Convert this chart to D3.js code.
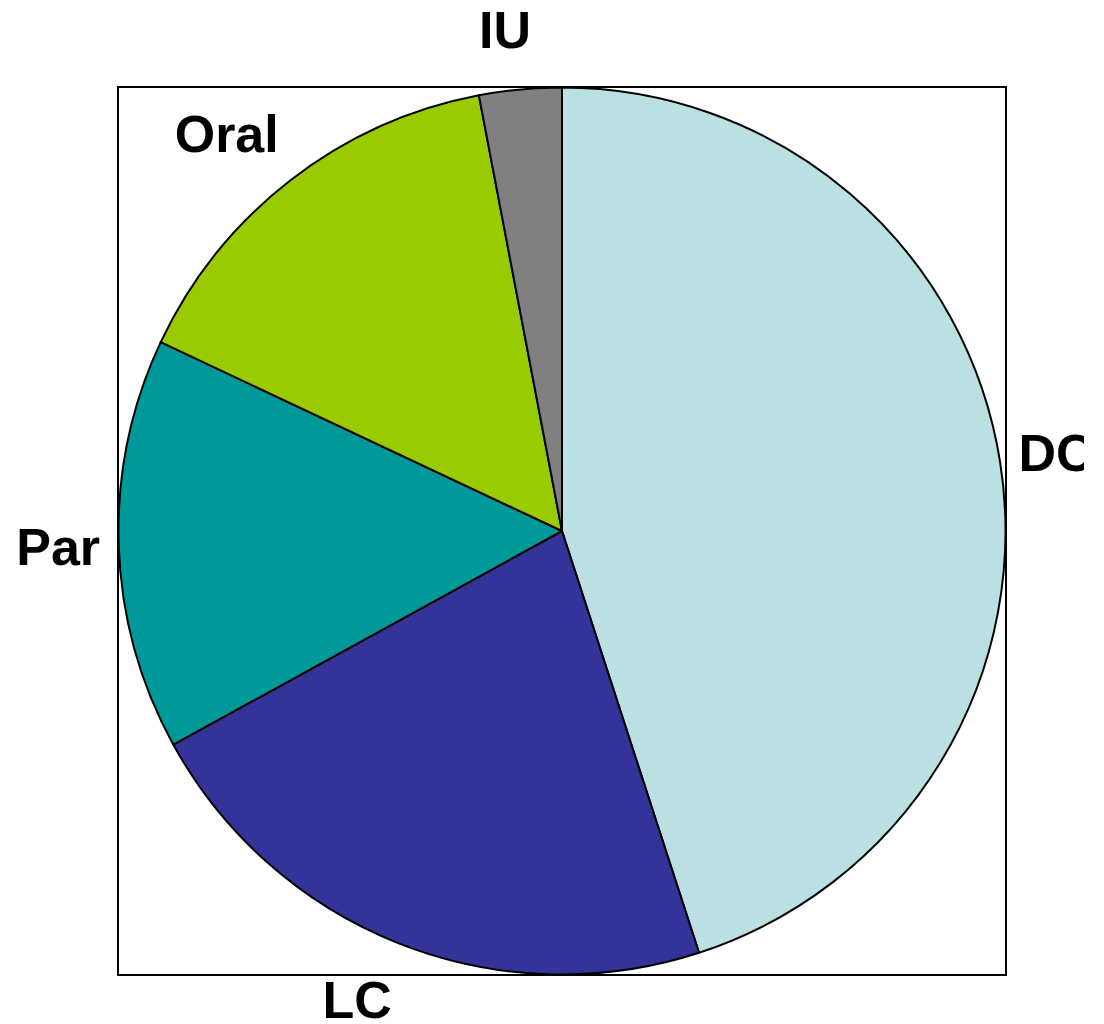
<!DOCTYPE html>
<html>
<head>
<meta charset="utf-8">
<script src="https://cdn.jsdelivr.net/npm/d3@7"></script>
<style>
  html, body { margin: 0; padding: 0; background: #ffffff; }
  svg { display: block; }
</style>
</head>
<body>
<svg id="chart" width="1104" height="1024"></svg>
<script>
// Share of each category (percent), drawn clockwise from 12 o'clock
const categories = ["DC", "LC", "Par", "Oral", "IU"];
const shares = [45, 22, 15, 15, 3];
const sliceColors = ["#BBE0E3", "#333399", "#009999", "#99CC00", "#808080"];

const width = 1104, height = 1024;
const cx = 562, cy = 531, radius = 443.5;
const fontSize = 52;
const capHalf = fontSize * 0.716 / 2;
// label anchors lie on an ellipse slightly outside the pie
const labelRx = radius * 1.042, labelRy = radius * 1.135;

const svg = d3.select("#chart");

svg.append("defs").append("clipPath").attr("id", "plotClip")
  .append("rect").attr("x", 0).attr("y", 0).attr("width", 1084).attr("height", height);

const data = categories.map((c, i) => ({ name: c, value: shares[i], color: sliceColors[i] }));

const pie = d3.pie().value(d => d.value).sort(null);
const arc = d3.arc().innerRadius(0).outerRadius(radius);
const arcs = pie(data);

const g = svg.append("g").attr("transform", `translate(${cx},${cy})`);

g.selectAll("path.slice")
  .data(arcs)
  .join("path")
  .attr("class", "slice")
  .attr("d", arc)
  .attr("fill", d => d.data.color)
  .attr("stroke", "#000")
  .attr("stroke-width", 2)
  .attr("stroke-linejoin", "round");

// Square frame around the pie
svg.append("rect")
  .attr("x", cx - radius - 0.5)
  .attr("y", cy - radius - 0.5)
  .attr("width", 2 * radius + 1)
  .attr("height", 2 * radius + 1)
  .attr("fill", "none")
  .attr("stroke", "#000")
  .attr("stroke-width", 2);

// Labels: left-side names end at the anchor, right-side names start there;
// names near the vertical axis drift toward centred alignment
svg.append("g").attr("clip-path", "url(#plotClip)")
  .selectAll("text")
  .data(arcs)
  .join("text")
  .attr("font-family", "'Liberation Sans', Arial, sans-serif")
  .attr("font-weight", "bold")
  .attr("font-size", fontSize)
  .attr("fill", "#000")
  .attr("text-anchor", "start")
  .text(d => d.data.name)
  .each(function (d) {
    const mid = (d.startAngle + d.endAngle) / 2;
    const ux = Math.sin(mid), uy = -Math.cos(mid);
    const w = this.getComputedTextLength();
    const adj = 0.5 - 0.5 * Math.sign(ux) * Math.min(1, Math.abs(ux) * 5.5);
    d3.select(this)
      .attr("x", cx + ux * labelRx - adj * w)
      .attr("y", cy + uy * labelRy + capHalf);
  });
</script>
</body>
</html>
